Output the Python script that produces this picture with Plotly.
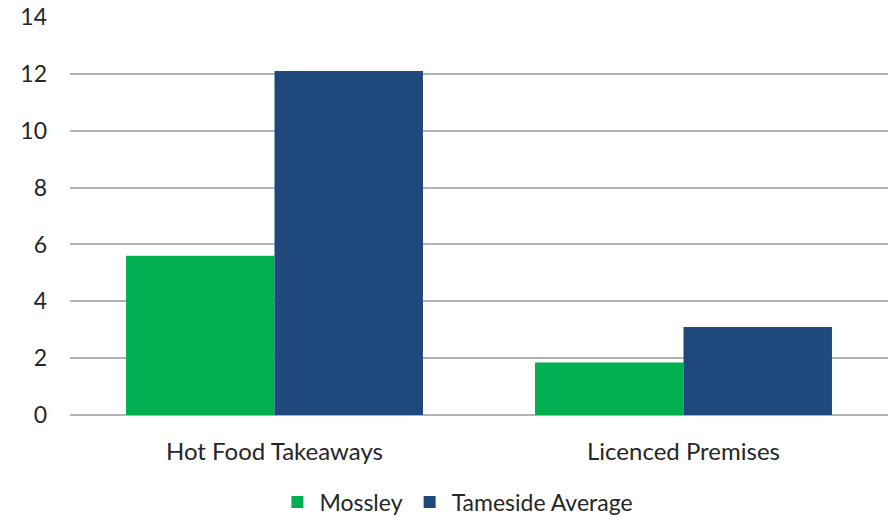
import plotly.graph_objects as go

categories = ["Hot Food Takeaways", "Licenced Premises"]
mossley = [5.6, 1.85]
tameside_avg = [12.1, 3.1]

fig = go.Figure()
fig.add_trace(go.Bar(x=categories, y=mossley, name="Mossley", marker=dict(color="#00B050", line=dict(width=0))))
fig.add_trace(go.Bar(x=categories, y=tameside_avg, name="Tameside Average",
                     marker=dict(color="#1F497D", line=dict(width=0))))

fig.update_layout(
    width=888,
    height=517,
    margin=dict(l=70, r=0, t=17, b=102, autoexpand=False),
    plot_bgcolor="white",
    paper_bgcolor="white",
    barmode="group",
    bargap=0.274,
    bargroupgap=0,
    font=dict(family="Lato, 'Open Sans', sans-serif", size=23, color="#262626"),
    legend=dict(orientation="h", x=0.473, xanchor="center", y=-0.219, yanchor="middle",
                font=dict(size=23), itemwidth=34, traceorder="normal"),
    showlegend=True,
)
fig.update_yaxes(range=[0, 14.002], tickvals=[0, 2, 4, 6, 8, 10, 12, 14], showgrid=True,
                 gridcolor="#B3B3B3", gridwidth=1.5,
                 zeroline=True, zerolinecolor="#B3B3B3", zerolinewidth=1.5, showline=False,
                 ticklabelstandoff=22, automargin=False)
fig.update_xaxes(showgrid=False, showline=False, ticks="", ticklabelstandoff=20, automargin=False,
                 tickfont=dict(size=24))

# drop the page's default body margin so the figure fills the window
fig.write_html("out.html", config={"displayModeBar": False},
               post_script="document.body.style.margin='0';")
